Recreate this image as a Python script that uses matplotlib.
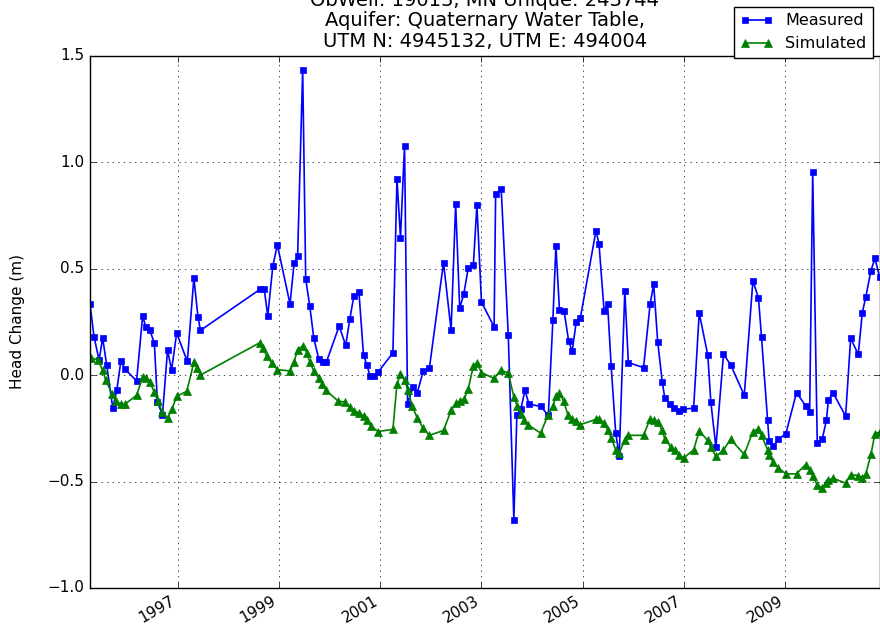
import datetime as dt
import matplotlib
matplotlib.use('Agg')
import matplotlib.pyplot as plt
import matplotlib.dates as mdates

# decimal years / head change (m)
meas_years = [1995.27, 1995.35, 1995.45, 1995.52, 1995.60, 1995.72, 1995.80, 1995.88, 1995.96,
              1996.19, 1996.31, 1996.37, 1996.45, 1996.54, 1996.60, 1996.70, 1996.80, 1996.88,
              1996.98, 1997.19, 1997.32, 1997.40, 1997.45,
              1998.63, 1998.71, 1998.78, 1998.88, 1998.97, 1999.22, 1999.30, 1999.37, 1999.47,
              1999.53, 1999.61, 1999.69, 1999.79, 1999.88, 1999.94, 2000.19, 2000.32, 2000.40,
              2000.48, 2000.58, 2000.67, 2000.74, 2000.80, 2000.88, 2000.96,
              2001.25, 2001.33, 2001.40, 2001.48, 2001.54, 2001.65, 2001.73, 2001.85, 2001.97,
              2002.25, 2002.40, 2002.49, 2002.57, 2002.65, 2002.74, 2002.84, 2002.91, 2003.00,
              2003.25, 2003.28, 2003.39, 2003.53, 2003.64, 2003.70, 2003.78, 2003.86, 2003.94,
              2004.17, 2004.32, 2004.41, 2004.47, 2004.54, 2004.63, 2004.72, 2004.79, 2004.87,
              2004.95, 2005.26, 2005.32, 2005.42, 2005.49, 2005.56, 2005.65, 2005.72, 2005.83,
              2005.90, 2006.20, 2006.33, 2006.40, 2006.48, 2006.57, 2006.62, 2006.73, 2006.80,
              2006.90, 2006.97, 2007.19, 2007.30, 2007.47, 2007.53, 2007.63, 2007.78, 2007.92,
              2008.19, 2008.36, 2008.47, 2008.53, 2008.65, 2008.68, 2008.76, 2008.86, 2009.01,
              2009.22, 2009.40, 2009.48, 2009.54, 2009.63, 2009.73, 2009.81, 2009.85, 2009.94,
              2010.19, 2010.29, 2010.44, 2010.52, 2010.59, 2010.69, 2010.77, 2010.86]
meas_head = [0.333, 0.179, 0.070, 0.175, 0.046, -0.155, -0.070, 0.066, 0.029,
             -0.028, 0.278, 0.226, 0.211, 0.151, -0.127, -0.186, 0.117, 0.024,
             0.198, 0.064, 0.456, 0.275, 0.210,
             0.403, 0.403, 0.278, 0.512, 0.611, 0.333, 0.525, 0.559, 1.435,
             0.450, 0.325, 0.172, 0.074, 0.062, 0.062, 0.230, 0.140, 0.263,
             0.371, 0.391, 0.093, 0.046, -0.006, -0.006, 0.015,
             0.104, 0.922, 0.645, 1.077, -0.134, -0.056, -0.084, 0.019, 0.031,
             0.528, 0.211, 0.803, 0.313, 0.380, 0.504, 0.516, 0.799, 0.343,
             0.226, 0.851, 0.875, 0.187, -0.679, -0.186, -0.158, -0.072, -0.137,
             -0.147, -0.189, 0.258, 0.606, 0.305, 0.302, 0.161, 0.111, 0.250,
             0.266, 0.678, 0.616, 0.302, 0.333, 0.043, -0.271, -0.381, 0.396,
             0.059, 0.035, 0.333, 0.427, 0.156, -0.032, -0.108, -0.134, -0.153,
             -0.169, -0.161, -0.155, 0.292, 0.093, -0.127, -0.339, 0.098, 0.049,
             -0.095, 0.443, 0.362, 0.177, -0.213, -0.310, -0.334, -0.302, -0.275,
             -0.082, -0.144, -0.174, 0.955, -0.318, -0.299, -0.213, -0.119, -0.082,
             -0.193, 0.173, 0.097, 0.292, 0.368, 0.490, 0.548, 0.462]

sim_years = [1995.29, 1995.43, 1995.52, 1995.58, 1995.71, 1995.78, 1995.88, 1995.96,
             1996.19, 1996.31, 1996.37, 1996.45, 1996.54, 1996.61, 1996.70, 1996.80, 1996.89,
             1996.98, 1997.18, 1997.32, 1997.39, 1997.45,
             1998.63, 1998.69, 1998.76, 1998.86, 1998.97, 1999.22, 1999.30, 1999.37, 1999.47,
             1999.55, 1999.61, 1999.69, 1999.79, 1999.86, 1999.93, 2000.17, 2000.30, 2000.40,
             2000.49, 2000.59, 2000.67, 2000.74, 2000.82, 2000.96,
             2001.25, 2001.33, 2001.40, 2001.48, 2001.55, 2001.63, 2001.73, 2001.84, 2001.97,
             2002.25, 2002.40, 2002.50, 2002.58, 2002.66, 2002.74, 2002.84, 2002.91, 2003.00,
             2003.25, 2003.38, 2003.53, 2003.64, 2003.71, 2003.78, 2003.85, 2003.92,
             2004.17, 2004.31, 2004.41, 2004.47, 2004.54, 2004.62, 2004.71, 2004.78, 2004.86,
             2004.95, 2005.26, 2005.32, 2005.42, 2005.49, 2005.56, 2005.65, 2005.72, 2005.83,
             2005.90, 2006.20, 2006.33, 2006.40, 2006.48, 2006.57, 2006.62, 2006.74, 2006.82,
             2006.91, 2006.99, 2007.19, 2007.30, 2007.47, 2007.53, 2007.63, 2007.78, 2007.92,
             2008.19, 2008.36, 2008.47, 2008.53, 2008.65, 2008.68, 2008.76, 2008.86, 2009.01,
             2009.22, 2009.40, 2009.48, 2009.54, 2009.63, 2009.73, 2009.81, 2009.85, 2009.94,
             2010.19, 2010.29, 2010.44, 2010.52, 2010.59, 2010.69, 2010.77, 2010.86]
sim_head = [0.082, 0.070, 0.023, -0.024, -0.090, -0.122, -0.137, -0.137,
            -0.095, -0.009, -0.013, -0.033, -0.080, -0.123, -0.175, -0.203, -0.158,
            -0.100, -0.076, 0.060, 0.031, 0.000,
            0.153, 0.125, 0.089, 0.057, 0.026, 0.019, 0.062, 0.120, 0.137,
            0.106, 0.062, 0.019, -0.016, -0.040, -0.072, -0.122, -0.127, -0.150,
            -0.169, -0.178, -0.193, -0.213, -0.241, -0.265,
            -0.255, -0.043, 0.004, -0.024, -0.072, -0.147, -0.200, -0.247, -0.283,
            -0.260, -0.166, -0.131, -0.122, -0.111, -0.064, 0.043, 0.057, 0.012,
            -0.016, 0.023, 0.010, -0.103, -0.147, -0.181, -0.213, -0.233,
            -0.273, -0.189, -0.147, -0.100, -0.082, -0.122, -0.189, -0.205, -0.216,
            -0.233, -0.208, -0.205, -0.226, -0.257, -0.294, -0.351, -0.365, -0.304,
            -0.283, -0.283, -0.205, -0.213, -0.221, -0.260, -0.299, -0.339, -0.354,
            -0.374, -0.390, -0.351, -0.263, -0.307, -0.339, -0.382, -0.352, -0.301,
            -0.373, -0.265, -0.252, -0.283, -0.351, -0.374, -0.409, -0.436, -0.464,
            -0.464, -0.420, -0.445, -0.472, -0.516, -0.530, -0.508, -0.495, -0.484,
            -0.508, -0.467, -0.472, -0.483, -0.464, -0.373, -0.275, -0.268]

tick_years = [1997, 1999, 2001, 2003, 2005, 2007, 2009]
y_ticks = [-1.0, -0.5, 0.0, 0.5, 1.0, 1.5]

title = ('ObWell: 19013, MN Unique: 243744\n'
         'Aquifer: Quaternary Water Table,\n'
         'UTM N: 4945132, UTM E: 494004')


def to_date(y):
    year = int(y)
    start = dt.datetime(year, 1, 1)
    return start + (dt.datetime(year + 1, 1, 1) - start) * (y - year)


meas_dates = [to_date(y) for y in meas_years]
sim_dates = [to_date(y) for y in sim_years]

plt.style.use('classic')
fig = plt.figure(figsize=(8.8, 6.38), dpi=100, facecolor='white')
ax = fig.add_axes([90 / 880, 1 - 588 / 638, 789.5 / 880, 532.3 / 638])

ax.plot(meas_dates, meas_head, 'bs-', ms=5, mec='b', lw=1.2, label='Measured')
ax.plot(sim_dates, sim_head, 'g^-', ms=6, mec='g', lw=1.2, label='Simulated')

ax.set_xlim(meas_dates[0], meas_dates[-1])
ax.set_ylim(-1.0, 1.5)
ax.set_yticks(y_ticks)
ax.set_xticks([dt.datetime(y, 1, 1) for y in tick_years])
ax.xaxis.set_major_formatter(mdates.DateFormatter('%Y'))
ax.tick_params(labelsize=11)
for lbl in ax.get_xticklabels():
    lbl.set_rotation(30)
    lbl.set_ha('right')
ax.grid(True)

ax.set_ylabel('Head Change (m)', fontsize=11, labelpad=16)
ax.set_title(title, fontsize=14, pad=6.5, linespacing=1.1)

fig.legend(loc='upper right', bbox_to_anchor=(873 / 880, 1 - 7 / 638),
           borderaxespad=0, numpoints=2, fontsize=11.5)

fig.savefig('out.png', dpi=100, facecolor='white')
